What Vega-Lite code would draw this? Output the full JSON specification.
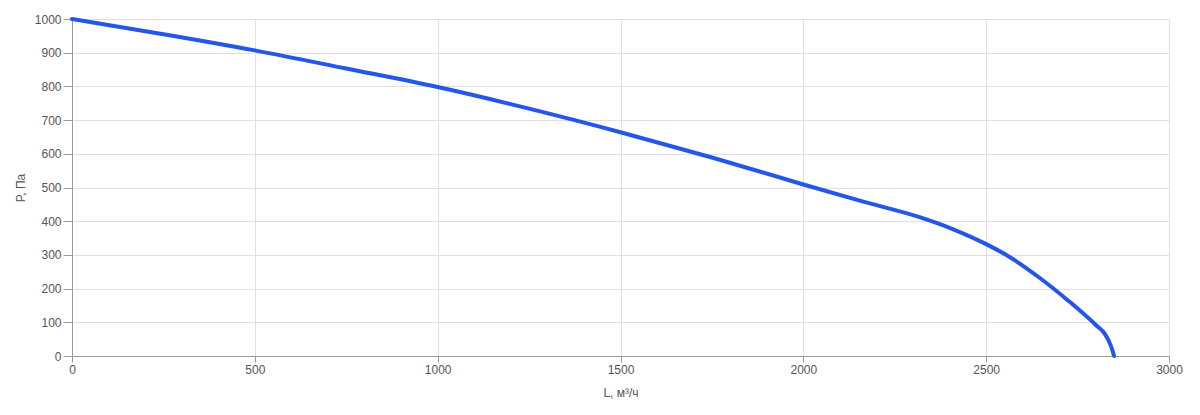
{
  "$schema": "https://vega.github.io/schema/vega-lite/v6.json",
  "autosize": "none",
  "width": 1097,
  "height": 337,
  "padding": {"left": 72, "top": 19, "right": 31, "bottom": 59},
  "background": "white",
  "config": {
    "view": {"stroke": null},
    "font": "Liberation Sans",
    "axis": {
      "labelFont": "Liberation Sans",
      "titleFont": "Liberation Sans",
      "labelFontSize": 12,
      "titleFontSize": 12,
      "titleFontWeight": "normal",
      "labelColor": "#555555",
      "titleColor": "#555555",
      "gridColor": "#e0e0e0",
      "gridOpacity": 1,
      "domainColor": "#999999",
      "tickColor": "#999999"
    }
  },
  "data": {
    "values": [
      {"L": 0, "P": 1000},
      {"L": 250, "P": 955},
      {"L": 500, "P": 907},
      {"L": 750, "P": 853},
      {"L": 1000, "P": 798},
      {"L": 1250, "P": 734},
      {"L": 1500, "P": 664},
      {"L": 1750, "P": 589},
      {"L": 2000, "P": 509},
      {"L": 2164, "P": 458},
      {"L": 2318, "P": 412},
      {"L": 2410, "P": 376},
      {"L": 2500, "P": 332},
      {"L": 2564, "P": 294},
      {"L": 2645, "P": 233},
      {"L": 2727, "P": 162},
      {"L": 2800, "P": 92},
      {"L": 2825, "P": 65},
      {"L": 2840, "P": 33},
      {"L": 2850, "P": 0}
    ]
  },
  "mark": {"type": "line", "color": "#2456e8", "strokeWidth": 4, "interpolate": "monotone", "strokeCap": "round"},
  "encoding": {
    "x": {
      "field": "L", "type": "quantitative",
      "scale": {"domain": [0, 3000], "nice": false},
      "axis": {"title": "L, м³/ч", "format": "d", "values": [0, 500, 1000, 1500, 2000, 2500, 3000], "tickSize": 6, "labelPadding": 2, "titlePadding": 12, "labelFlush": false}
    },
    "y": {
      "field": "P", "type": "quantitative",
      "scale": {"domain": [0, 1000], "nice": false},
      "axis": {"title": "P, Па", "format": "d", "values": [0, 100, 200, 300, 400, 500, 600, 700, 800, 900, 1000], "tickSize": 9, "labelPadding": 2, "titlePadding": 7, "labelFlush": false}
    }
  }
}
